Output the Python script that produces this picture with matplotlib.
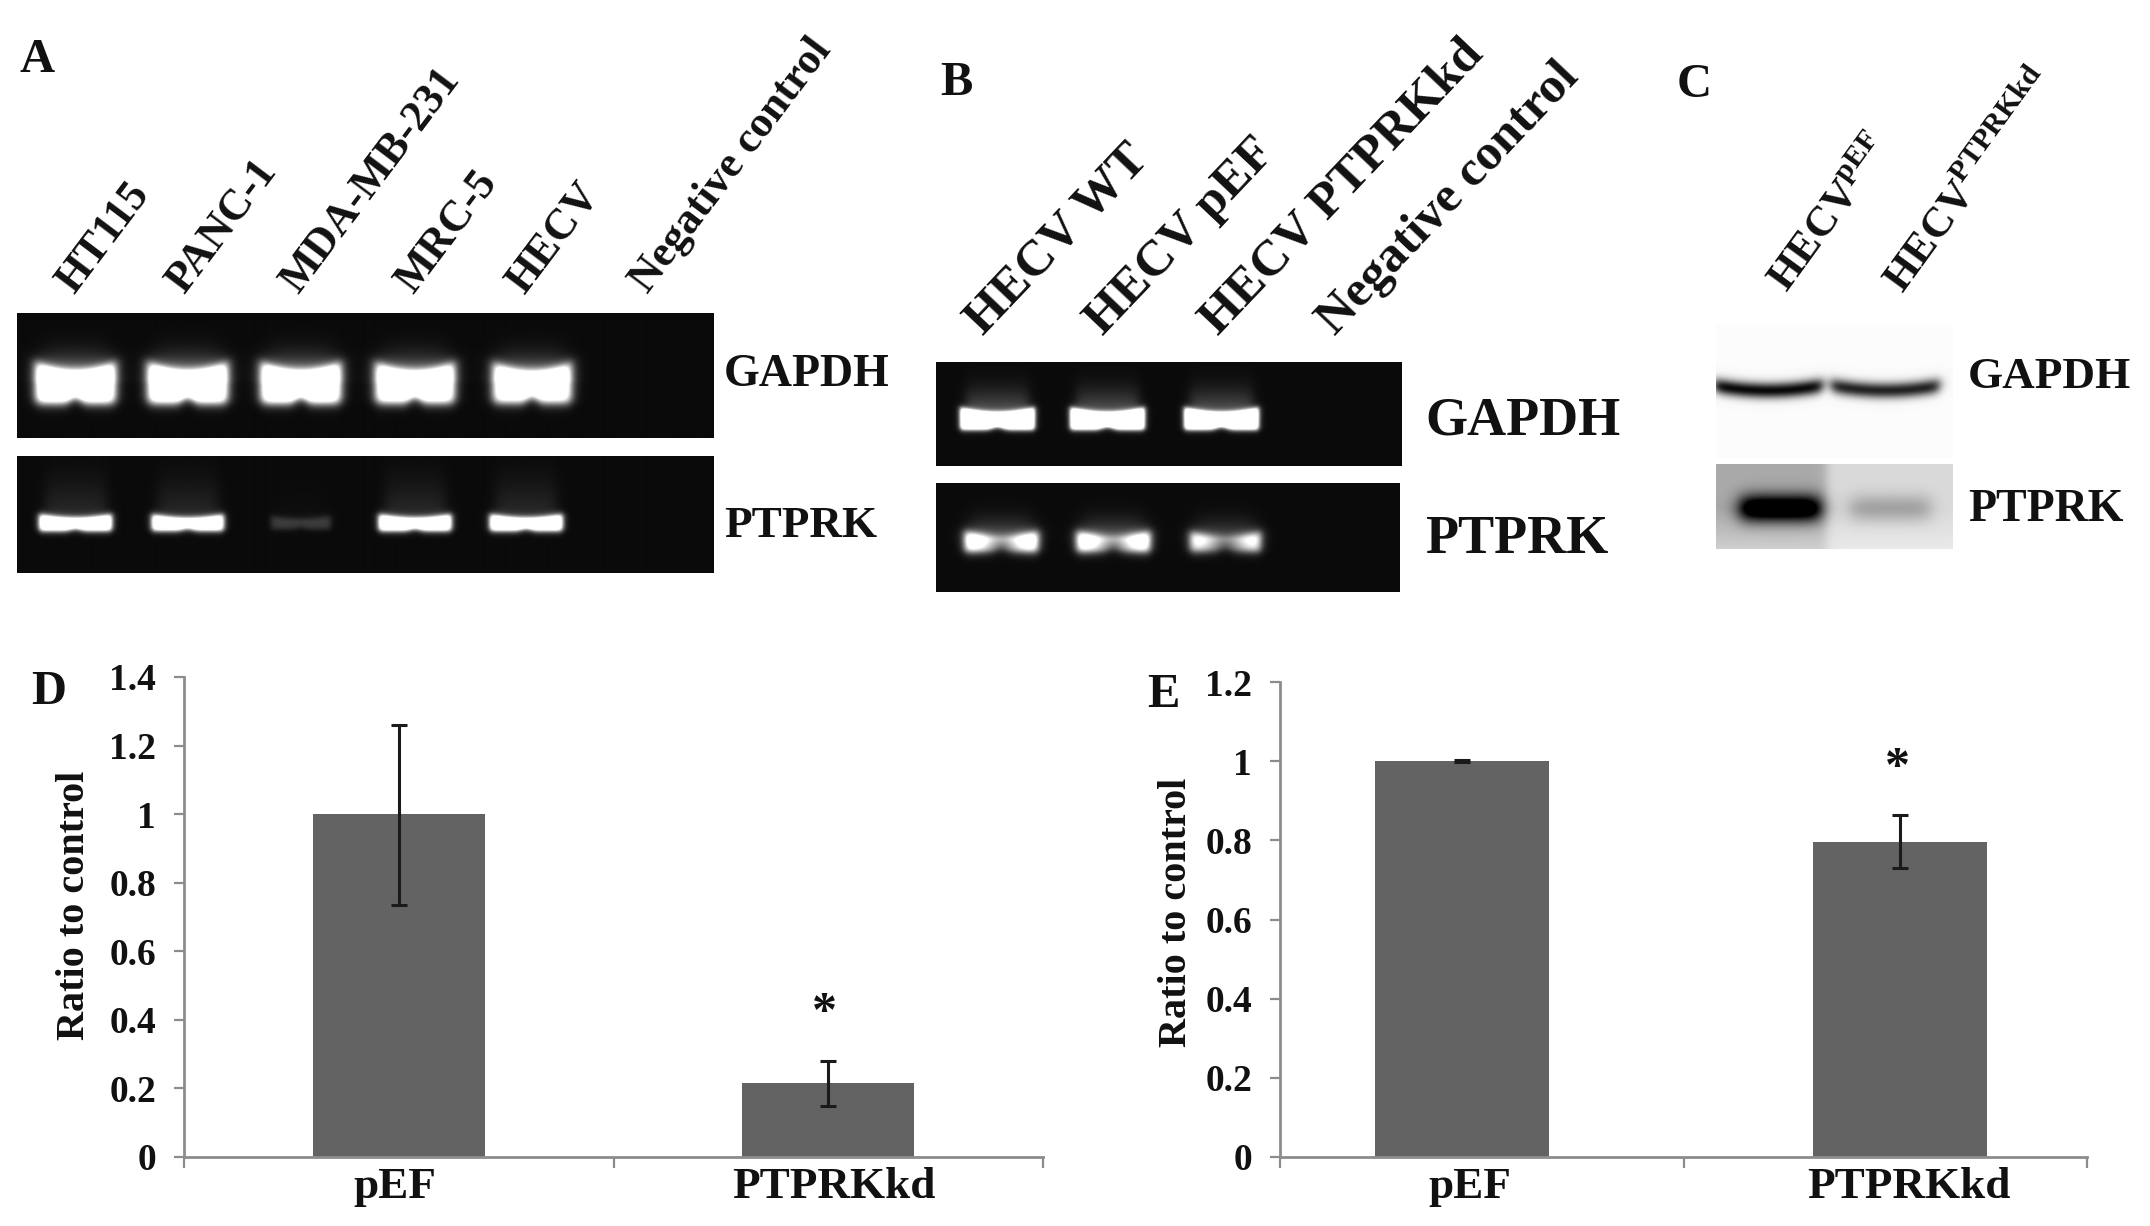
import numpy as np
import matplotlib
matplotlib.use('Agg')
import matplotlib.pyplot as plt

plt.rcParams['font.family'] = ['Liberation Serif', 'DejaVu Serif']
plt.rcParams['font.weight'] = 'bold'
plt.rcParams['mathtext.fontset'] = 'custom'
plt.rcParams['mathtext.bf'] = 'Liberation Serif:bold'

W, H = 2150, 1226

groups = ['pEF', 'PTPRKkd']
d_values = [1.0, 0.215]
d_err_low = [0.265, 0.067]
d_err_high = [0.26, 0.065]
d_ticks = [0, 0.2, 0.4, 0.6, 0.8, 1, 1.2, 1.4]
e_values = [1.0, 0.796]
e_err_low = [0.003, 0.065]
e_err_high = [0.003, 0.067]
e_ticks = [0, 0.2, 0.4, 0.6, 0.8, 1, 1.2]

# lane names and band brightness estimated from the gels
a_lanes = ['HT115', 'PANC-1', 'MDA-MB-231', 'MRC-5', 'HECV', 'Negative control']
a_gapdh = [1.0, 1.0, 1.0, 0.95, 0.9]
a_ptprk = [1.0, 0.95, 0.13, 1.0, 1.0]
b_lanes = ['HECV WT', 'HECV pEF', 'HECV PTPRKkd', 'Negative control']
b_gapdh = [1.0, 1.0, 1.0]
b_ptprk = [0.9, 0.9, 0.72]
c_gapdh = [0.95, 0.85]
c_ptprk = [0.95, 0.22]


def px_axes(x0, y0, x1, y1):
    return fig.add_axes([x0 / W, 1 - y1 / H, (x1 - x0) / W, (y1 - y0) / H])


def label(x, y, s, size, rot=0, ha='left', va='baseline'):
    fig.text(x / W, 1 - y / H, s, fontsize=size, rotation=rot, ha=ha, va=va,
             rotation_mode='anchor', fontweight='bold', color='#111111')


def band(xx, yy, xc, yc, hw, hh, amp, edge=0.0, glow=0.25, soft=4.0, reach=2.0):
    u = (xx - xc) / hw
    top = yc - hh * (0.55 + 0.45 * u ** 2)
    bot = yc + hh * (1 - 0.22 * np.exp(-(u / 0.2) ** 2))
    sx = 0.5 * (np.tanh((xx - xc + hw) / soft) - np.tanh((xx - xc - hw) / soft))
    sy = 0.5 * (np.tanh((yy - top) / soft) - np.tanh((yy - bot) / soft))
    prof = 1 - edge * np.exp(-(u / 0.55) ** 2)
    core = sx * sy * prof
    # faint smear above the band
    up = np.clip((yc - yy) / (reach * hh), 0, None)
    sm = 0.5 * (np.tanh((xx - xc + 0.85 * hw) / (soft * 2)) - np.tanh((xx - xc - 0.85 * hw) / (soft * 2)))
    smear = glow * sm * np.exp(-up ** 2) * (0.5 + 0.5 * np.tanh((yc - yy) / 3))
    return amp * (1.6 * core + smear)


def gel(box, lanes_x, amps, yc, hw, hh, edge=0.0, glow=0.25, soft=4.0, reach=2.0, bg=0.04):
    x0, y0, x1, y1 = box
    yy, xx = np.mgrid[y0:y1, x0:x1].astype(float)
    img = np.full(xx.shape, bg)
    for xc, amp in zip(lanes_x, amps):
        img += band(xx, yy, xc, yc, hw * (0.8 + 0.2 * amp), hh * (0.8 + 0.2 * amp),
                    amp, edge, glow, soft, reach)
    ax = px_axes(x0, y0, x1, y1)
    ax.imshow(np.clip(img, 0, 1), cmap='gray', vmin=0, vmax=1, aspect='auto',
              interpolation='bilinear')
    ax.axis('off')
    return ax


def blot(box, lanes_x, amps, yc, hw, hh, base, split, soft=6.0, bend=0.0):
    x0, y0, x1, y1 = box
    yy, xx = np.mgrid[y0:y1, x0:x1].astype(float)
    dark = np.full(xx.shape, 0.015)
    for i, (xc, amp, b) in enumerate(zip(lanes_x, amps, base)):
        u = (xx - xc) / hw
        sx = 0.5 * (np.tanh((xx - xc + hw) / soft) - np.tanh((xx - xc - hw) / soft))
        sy = np.exp(-((yy - yc - bend * (1 - u ** 2)) / hh) ** 2)
        dark += amp * sx * sy
        side = np.tanh((split - xx) / 6) if i == 0 else np.tanh((xx - split) / 6)
        fade = 1 - 0.45 * np.clip((yy - yc) / (y1 - yc), 0, 1)
        dark += b * 0.5 * (1 + side) * fade
    img = 1 - dark
    ax = px_axes(x0, y0, x1, y1)
    ax.imshow(np.clip(img, 0, 1), cmap='gray', vmin=0, vmax=1, aspect='auto',
              interpolation='bilinear')
    ax.axis('off')


def bars(box, values, low, high, ticks, ymax, centers, text_x, width):
    ax = px_axes(*box)
    ax.bar(centers, values, width=width, color='#636363')
    ax.errorbar(centers, values, yerr=[low, high], fmt='none', ecolor='#1a1a1a',
                elinewidth=2.2, capsize=6, capthick=2.2)
    ax.set_xlim(0, 2)
    ax.set_ylim(0, ymax)
    ax.set_yticks(ticks)
    ax.set_yticklabels([str(t) for t in ticks], fontsize=27, fontweight='bold', color='#111111')
    ax.set_xticks([0, 1, 2])
    ax.set_xticklabels([])
    ax.set_xticks(text_x, minor=True)
    ax.set_xticklabels(groups, minor=True, fontsize=32.5, fontweight='bold', color='#111111')
    ax.tick_params(axis='y', length=7, width=1.6, color='#8c8c8c', pad=13)
    ax.tick_params(axis='x', which='major', length=8, width=1.6, color='#8c8c8c')
    ax.tick_params(axis='x', which='minor', length=0, pad=7)
    for side in ['top', 'right']:
        ax.spines[side].set_visible(False)
    for side in ['left', 'bottom']:
        ax.spines[side].set_color('#8c8c8c')
        ax.spines[side].set_linewidth(2)
    ax.patch.set_alpha(0)
    return ax


fig = plt.figure(figsize=(W / 100, H / 100), dpi=100, facecolor='white')

# panel A
gel((17, 313, 713, 438), [75, 187, 300, 414, 531], a_gapdh, 382, 39, 20, glow=0.4, soft=6.0, reach=1.3)
gel((17, 456, 713, 573), [75, 187, 300, 414, 525], a_ptprk, 522, 36, 8, glow=0.12, soft=3.5, reach=5.0)
a_tips = [74, 184, 298, 413, 524, 648]
for x, s in zip(a_tips, a_lanes):
    label(x, 295, s, 31.5, rot=53)
label(724, 386, 'GAPDH', 33)
label(724, 537, 'PTPRK', 32.5)
label(37, 72, 'A', 35, ha='center')

# panel B
gel((936, 362, 1402, 466), [997, 1107, 1221], b_gapdh, 418, 37, 11, glow=0.3, soft=3.0, reach=2.4)
gel((936, 483, 1400, 592), [1001, 1113, 1225], b_ptprk, 541, 37, 10, edge=0.6, glow=0.3, soft=5.0, reach=2.2)
b_tips = [983, 1103, 1218, 1335]
for x, s in zip(b_tips, b_lanes):
    label(x, 336, s, 36.5, rot=46.5)
label(1425, 434, 'GAPDH', 39)
label(1425, 553, 'PTPRK', 39)
label(956, 95, 'B', 35, ha='center')

# panel C
blot((1716, 325, 1953, 458), [1768, 1885], c_gapdh, 385, 54, 8, [0.0, 0.0], 1826, soft=6.0, bend=5.0)
blot((1716, 464, 1953, 549), [1780, 1890], c_ptprk, 508, 40, 14, [0.32, 0.13], 1826, soft=10.0)
label(1787, 294, r'HECV$^{\mathbf{pEF}}$', 31, rot=54)
label(1902, 294, r'HECV$^{\mathbf{PTPRKkd}}$', 31, rot=54)
label(1968, 388, 'GAPDH', 32.5)
label(1968, 521, 'PTPRK', 33)
label(1694, 97, 'C', 35, ha='center')

# panel D
bars((184, 677, 1043, 1157), d_values, d_err_low, d_err_high, d_ticks, 1.4,
     [0.5, 1.5], [0.491, 1.513], 0.4)
label(84, 905, 'Ratio to control', 29, rot=90, ha='center')
label(824, 1026, '*', 36, ha='center')
label(49, 704, 'D', 35, ha='center')

# panel E
bars((1280, 682, 2087, 1157), e_values, e_err_low, e_err_high, e_ticks, 1.2,
     [0.451, 1.537], [0.471, 1.558], 0.43)
label(1186, 912, 'Ratio to control', 29, rot=90, ha='center')
label(1897, 781, '*', 36, ha='center')
label(1163, 707, 'E', 35, ha='center')

plt.savefig('out.png', dpi=100, facecolor='white')
